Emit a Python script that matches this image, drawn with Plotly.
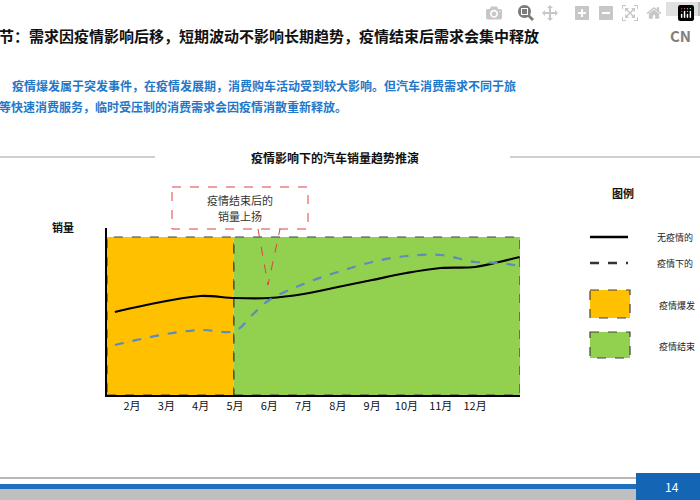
import plotly.graph_objects as go

months = [2, 3, 4, 5, 6, 7, 8, 9, 10, 11, 12]
month_labels = ["2月", "3月", "4月", "5月", "6月", "7月", "8月", "9月", "10月", "11月", "12月"]
normal_x = [1.5, 2, 3, 4, 5, 6, 7, 8, 9, 10, 11, 12, 12.7, 13.3]
normal_y = [83, 87, 94, 99, 97, 97, 101, 108, 115, 122, 127, 128, 133, 138]
covid_x = [1.5, 2, 3, 4, 5, 5.5, 6, 7, 8, 9, 10, 11, 12, 12.7, 13.3]
covid_y = [50, 54, 61, 65, 64, 80, 95, 111, 123, 133, 139, 140, 133, 132, 129]
phase_start = [1.27, 4.97]
phase_end = [4.97, 13.31]
phase_colors = ["#FFC000", "#92D050"]

W, H = 700, 500
def px(x): return x / W
def py(y): return 1 - y / H

fig = go.Figure()
shapes = []
for s, e, c in zip(phase_start, phase_end, phase_colors):
    shapes.append(dict(type="rect", xref="x", yref="y", x0=s, x1=e, y0=0, y1=158,
                       fillcolor=c, line=dict(color="#404040", width=1.2, dash="dash"), layer="below"))
fig.add_trace(go.Scatter(x=normal_x, y=normal_y, mode="lines", line=dict(color="black", width=2.2, shape="spline"), showlegend=False))
fig.add_trace(go.Scatter(x=covid_x, y=covid_y, mode="lines", line=dict(color="#5B8DB8", width=2.2, dash="dash", shape="spline"), showlegend=False))

def pline(x0, y0, x1, y1, color, width=1, dash="solid"):
    shapes.append(dict(type="line", xref="paper", yref="paper", x0=px(x0), y0=py(y0), x1=px(x1), y1=py(y1),
                       line=dict(color=color, width=width, dash=dash)))
def prect(x0, y0, x1, y1, fill, lc=None, lw=0, dash="solid"):
    shapes.append(dict(type="rect", xref="paper", yref="paper", x0=px(x0), y0=py(y0), x1=px(x1), y1=py(y1),
                       fillcolor=fill, line=dict(color=lc or fill, width=lw, dash=dash)))

pline(0, 157, 155, 157, "#A0A0A0")
pline(510, 157, 700, 157, "#A0A0A0")
prect(172, 187, 308, 229, "white", "#E04040", 1, "dash")
shapes.append(dict(type="path", xref="paper", yref="paper",
                   path=f"M {px(258)},{py(229)} L {px(268)},{py(285)} L {px(280)},{py(229)}",
                   line=dict(color="#E04040", width=1, dash="dash")))
pline(590, 237, 628, 237, "black", 2.5)
pline(590, 263, 628, 263, "#333", 2.5, "dash")
prect(590, 290, 630, 318, "#FFC000", "#404040", 1.2, "dash")
prect(590, 332, 630, 358, "#92D050", "#404040", 1.2, "dash")
pline(0, 478, 700, 478, "#A0A0A0", 1.5)
prect(0, 484, 700, 489, "#1F6FBF")
prect(0, 489, 636, 500, "#BFBFBF")
prect(636, 473, 700, 500, "#1565B5")
prect(666, 2, 700, 16, "#C0C0C0")

ann = []
def txt(x, y, t, size=11, color="black", bold=False, anchor="left"):
    ann.append(dict(xref="paper", yref="paper", x=px(x), y=py(y), text=f"<b>{t}</b>" if bold else t,
                    showarrow=False, xanchor=anchor, yanchor="middle",
                    font=dict(size=size, color=color, family="Noto Sans CJK SC")))
txt(-3, 35, "节：需求因疫情影响后移，短期波动不影响长期趋势，疫情结束后需求会集中释放", 15, "#111", True)
txt(668, 35, "CN", 15, "#808080", True)
txt(10, 86, "疫情爆发属于突发事件，在疫情发展期，消费购车活动受到较大影响。但汽车消费需求不同于旅", 12, "#1F78C8", True)
txt(-3, 107, "等快速消费服务，临时受压制的消费需求会因疫情消散重新释放。", 12, "#1F78C8", True)
txt(335, 157, "疫情影响下的汽车销量趋势推演", 12, "#111", True, "center")
txt(240, 200, "疫情结束后的", 11, "#333", False, "center")
txt(240, 216, "销量上扬", 11, "#333", False, "center")
txt(63, 227, "销量", 11, "#111", True, "center")
txt(623, 193, "图例", 11, "#111", True, "center")
txt(655, 237, "无疫情的", 9, "#222")
txt(655, 263, "疫情下的", 9, "#222")
txt(657, 305, "疫情爆发", 9, "#222")
txt(657, 346, "疫情结束", 9, "#222")
txt(672, 486, "14", 12, "white", False, "center")

fig.update_layout(width=W, height=H, margin=dict(l=0, r=0, t=0, b=0),
                  paper_bgcolor="white", plot_bgcolor="white", shapes=shapes, annotations=ann,
                  xaxis=dict(domain=[px(107), px(520)], range=[1.27, 13.31], tickvals=months, ticktext=month_labels,
                             showgrid=False, zeroline=False, showline=True, linecolor="black", linewidth=1.5,
                             ticks="", tickfont=dict(size=11, family="Noto Sans CJK SC", color="#111"),
                             anchor="y"),
                  yaxis=dict(domain=[py(395), py(228)], range=[0, 167], showgrid=False, zeroline=False,
                             showline=True, linecolor="black", linewidth=1.5, showticklabels=False, ticks=""))
fig.write_html("out.html", post_script="document.body.style.margin='0';document.body.style.overflow='hidden';")
